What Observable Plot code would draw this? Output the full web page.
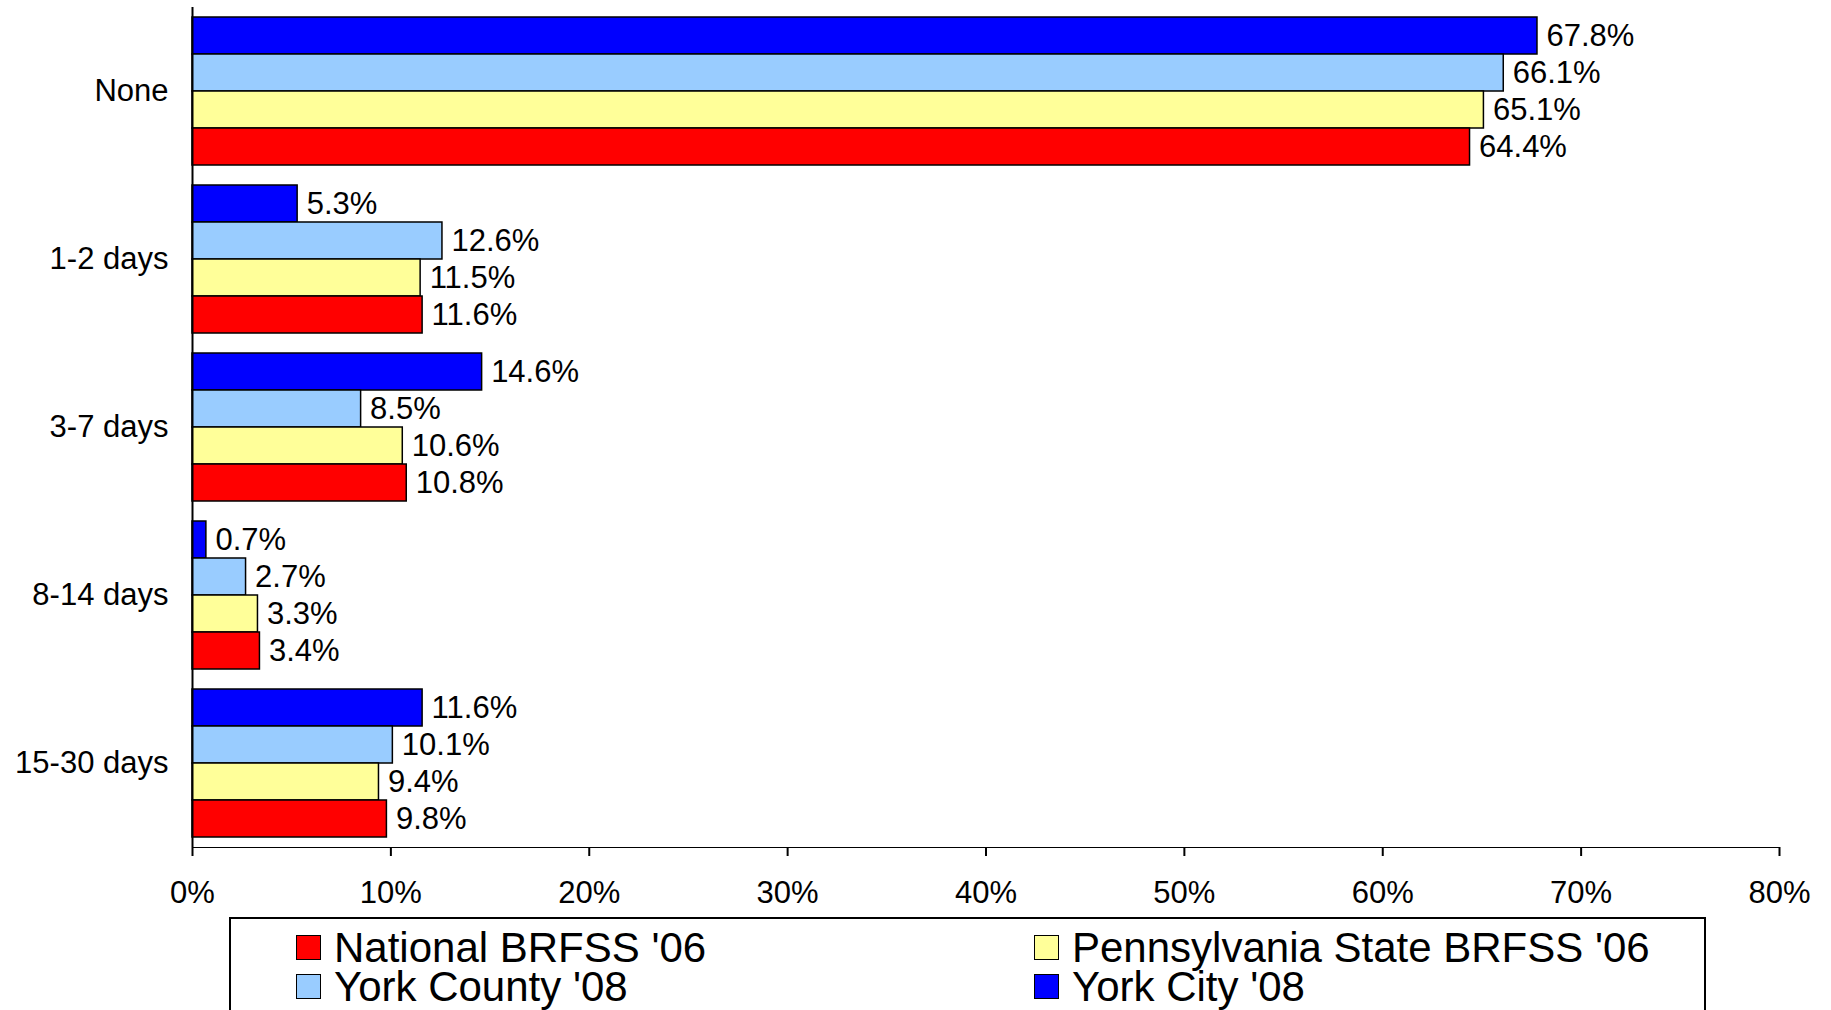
<!DOCTYPE html>
<html>
<head>
<meta charset="utf-8">
<script src="https://cdn.jsdelivr.net/npm/d3@7"></script>
<script src="https://cdn.jsdelivr.net/npm/@observablehq/plot@0.6"></script>
<style>
  html, body { margin: 0; padding: 0; background: white; overflow: hidden; }
  body { width: 1831px; height: 1010px; position: relative; font-family: 'Liberation Sans', Arial, sans-serif; }
  #chart svg g[aria-label^="x-axis tick"] { stroke-width: 2px; }
  #chart svg g[aria-label="x-axis tick"] path { stroke-width: 2px; }
  #legend { position: absolute; left: 229px; top: 917px; width: 1477px; height: 100px; border: 2px solid black; box-sizing: border-box; }
  .item { position: absolute; display: flex; align-items: center; font-size: 42px; line-height: 37px; height: 37px; color: black; white-space: nowrap; }
  .sw { width: 23px; height: 23px; border: 1.5px solid black; margin-right: 13px; }
</style>
</head>
<body>
<div id="chart"></div>
<div id="legend"></div>
<script>
const categories = ["None", "1-2 days", "3-7 days", "8-14 days", "15-30 days"];
const seriesNames = ["York City '08", "York County '08", "Pennsylvania State BRFSS '06", "National BRFSS '06"];
const yorkCity = [67.8, 5.3, 14.6, 0.7, 11.6];
const yorkCounty = [66.1, 12.6, 8.5, 2.7, 10.1];
const pennsylvania = [65.1, 11.5, 10.6, 3.3, 9.4];
const national = [64.4, 11.6, 10.8, 3.4, 9.8];
const seriesColors = ["#0000FF", "#99CCFF", "#FFFF99", "#FF0000"];
const xTicks = [0, 10, 20, 30, 40, 50, 60, 70, 80];
const legendOrder = ["National BRFSS '06", "Pennsylvania State BRFSS '06", "York County '08", "York City '08"];

const seriesValues = [yorkCity, yorkCounty, pennsylvania, national];
const data = [];
categories.forEach((cat, i) => {
  seriesNames.forEach((s, j) => data.push({cat, series: s, value: seriesValues[j][i]}));
});

const chart = Plot.plot({
  width: 1831,
  height: 912,
  marginLeft: 192,
  marginRight: 52,
  marginTop: 5,
  marginBottom: 64,
  style: {fontFamily: "'Liberation Sans', Arial, sans-serif", fontSize: "31px", color: "black", background: "white"},
  x: {domain: [0, 80], ticks: xTicks, tickFormat: d => d + "%", tickSize: 9, tickPadding: 24, line: true, label: null},
  y: {domain: seriesNames, axis: null, paddingInner: 0, paddingOuter: 0.248},
  fy: {domain: categories, padding: 0, axis: "left", label: null, tickSize: 0, tickPadding: 24},
  color: {domain: seriesNames, range: seriesColors},
  marks: [
    Plot.barX(data, {x: "value", y: "series", fy: "cat", fill: "series", stroke: "black", strokeWidth: 1.5}),
    Plot.text(data, {x: "value", y: "series", fy: "cat", text: d => d.value.toFixed(1) + "%", textAnchor: "start", dx: 9, fontSize: 31, fill: "black"}),
    Plot.ruleX([0], {stroke: "black", strokeWidth: 2})
  ]
});
document.getElementById("chart").appendChild(chart);

const legend = document.getElementById("legend");
const colorOf = Object.fromEntries(seriesNames.map((s, i) => [s, seriesColors[i]]));
legendOrder.forEach((s, i) => {
  const col = i % 2, row = Math.floor(i / 2);
  const div = document.createElement("div");
  div.className = "item";
  div.style.left = (col === 0 ? 65 : 803) + "px";
  div.style.top = (10 + row * 39) + "px";
  const sw = document.createElement("div");
  sw.className = "sw";
  sw.style.background = colorOf[s];
  const t = document.createElement("span");
  t.textContent = s;
  div.appendChild(sw);
  div.appendChild(t);
  legend.appendChild(div);
});
</script>
</body>
</html>
